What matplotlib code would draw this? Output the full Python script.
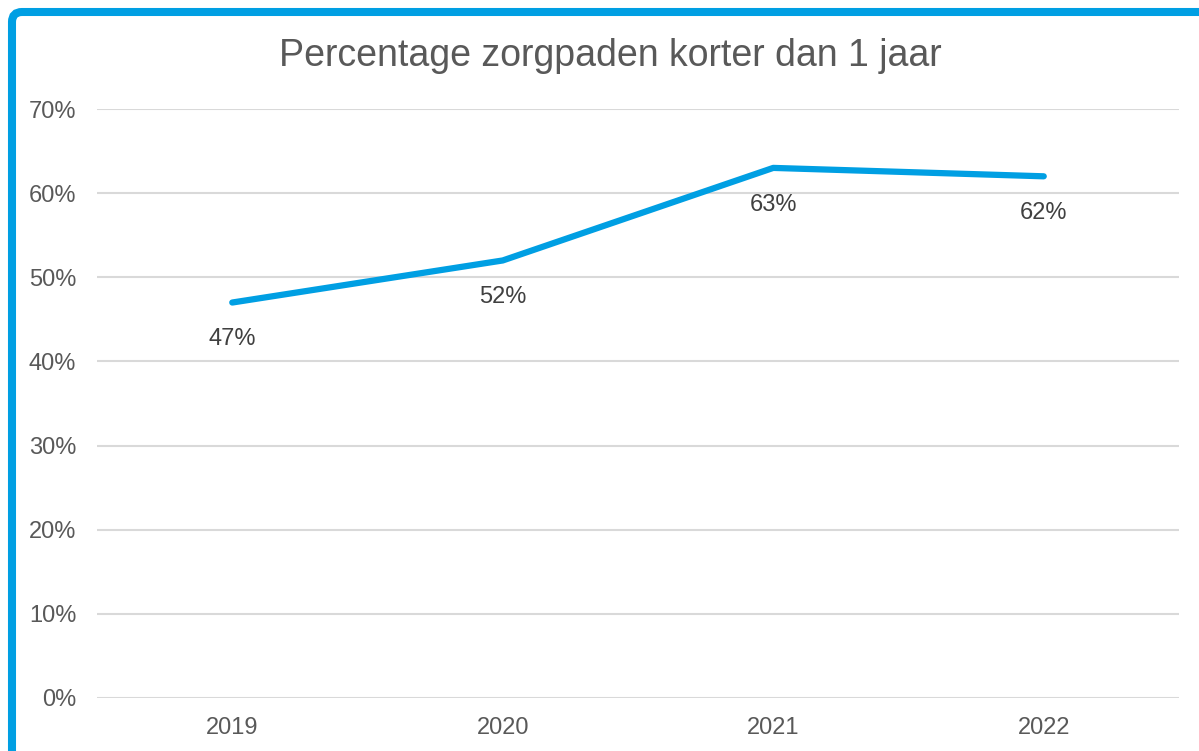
import matplotlib
matplotlib.use("Agg")
import matplotlib.pyplot as plt
from matplotlib.patches import FancyBboxPatch
from matplotlib.ticker import FuncFormatter

# data
years = ["2019", "2020", "2021", "2022"]
pct = [47, 52, 63, 62]
title = "Percentage zorgpaden korter dan 1 jaar"

blue = "#009FE3"
grey_txt = "#595959"
grid_col = "#D9D9D9"

plt.rcParams["font.family"] = ["Liberation Sans", "DejaVu Sans"]

W, H = 1199, 751
fig = plt.figure(figsize=(W / 100, H / 100), dpi=100)
ax = fig.add_axes([97 / W, 1 - 698 / H, (1179 - 97) / W, (698 - 109) / H])

x = range(len(years))
ax.plot(x, pct, color=blue, linewidth=4.5, solid_capstyle="round", solid_joinstyle="round")
for xi, v in zip(x, pct):
    ax.annotate(f"{v}%", (xi, v), xytext=(0, -26.5), textcoords="offset points",
                ha="center", va="center", fontsize=17, color="#404040")

ax.set_xlim(-0.5, len(years) - 0.5)
ax.set_ylim(0, 70)
ax.set_yticks(range(0, 71, 10))
ax.yaxis.set_major_formatter(FuncFormatter(lambda v, p: f"{v:.0f}%"))
ax.set_xticks(list(x))
ax.set_xticklabels(years)
ax.tick_params(length=0, labelsize=17, labelcolor=grey_txt)
ax.tick_params(axis="y", pad=15)
ax.tick_params(axis="x", pad=14)
ax.grid(axis="y", color=grid_col, linewidth=1.5)
ax.set_axisbelow(True)
for s in ax.spines.values():
    s.set_visible(False)

fig.text(610 / W, 1 - 56 / H, title, ha="center", va="center", fontsize=27, color=grey_txt)

# blue frame around the chart (runs off the right and bottom edge)
frame = FancyBboxPatch((12, -30), W + 30, H - 12 + 30, boxstyle="round,pad=0,rounding_size=10",
                       fill=False, edgecolor=blue, linewidth=5.8, transform=None)
fig.patches.append(frame)

fig.savefig("out.png", dpi=100)
